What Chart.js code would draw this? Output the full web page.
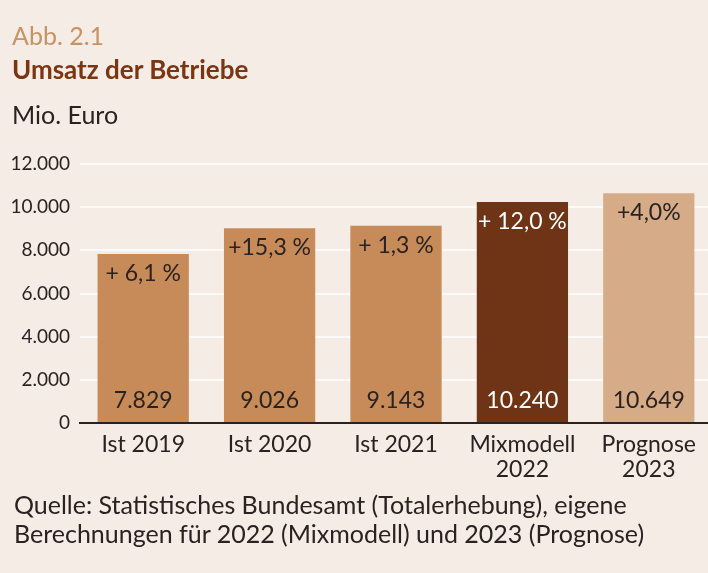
<!DOCTYPE html>
<html><head><meta charset="utf-8">
<script src="https://cdn.jsdelivr.net/npm/chart.js@4.4.0/dist/chart.umd.min.js"></script>
<style>
html,body{margin:0;padding:0;width:708px;height:573px;overflow:hidden;background:#f5ece5;font-family:Lato,sans-serif;}
#wrap{position:absolute;left:0;top:0;width:712px;height:573px;}
.t{position:absolute;left:12px;white-space:nowrap;}
#abb{top:23px;font-size:25px;line-height:25px;color:#c99262;}
#tit{top:56px;font-size:26px;line-height:26px;color:#7a3513;font-weight:bold;}
#unit{top:102px;font-size:25px;line-height:25px;color:#2a2220;}
#src{top:490px;left:14px;font-size:25px;line-height:29px;color:#2a2220;}
</style></head>
<body>
<div id="wrap"><canvas id="c"></canvas></div>
<div class="t" id="abb">Abb. 2.1</div>
<div class="t" id="tit">Umsatz der Betriebe</div>
<div class="t" id="unit">Mio. Euro</div>
<div class="t" id="src">Quelle: Statistisches Bundesamt (Totalerhebung), eigene<br>Berechnungen für 2022 (Mixmodell) und 2023 (Prognose)</div>
<script>
const categories = [["Ist 2019"], ["Ist 2020"], ["Ist 2021"], ["Mixmodell", "2022"], ["Prognose", "2023"]];
const values = [7829, 9026, 9143, 10240, 10649];
const valueLabels = ["7.829", "9.026", "9.143", "10.240", "10.649"];
const changeLabels = ["+ 6,1 %", "+15,3 %", "+ 1,3 %", "+ 12,0 %", "+4,0%"];
const yTicks = [0, 2000, 4000, 6000, 8000, 10000, 12000];
const barColors = ["#c68b59", "#c68b59", "#c68b59", "#6e3415", "#d5ab88"];
const labelColors = ["#2a2220", "#2a2220", "#2a2220", "#ffffff", "#2a2220"];

const labelPlugin = {
  id: 'barLabels',
  afterDatasetsDraw(chart) {
    const ctx = chart.ctx;
    const meta = chart.getDatasetMeta(0);
    const y0 = chart.scales.y.getPixelForValue(0);
    ctx.save();
    ctx.font = '23px Lato';
    ctx.textAlign = 'center';
    ctx.textBaseline = 'alphabetic';
    meta.data.forEach((bar, i) => {
      ctx.fillStyle = labelColors[i];
      ctx.fillText(changeLabels[i], bar.x, bar.y + 27);
      ctx.fillText(valueLabels[i], bar.x, y0 - 15);
    });
    ctx.restore();
  }
};

function fmt(v){ return v === 0 ? '0' : v.toLocaleString('de-DE'); }

function build(){
  new Chart(document.getElementById('c'), {
    type: 'bar',
    data: {
      labels: categories,
      datasets: [{
        data: values,
        backgroundColor: barColors,
        borderWidth: 0,
        barPercentage: 0.722,
        categoryPercentage: 1.0
      }]
    },
    options: {
      responsive: true,
      maintainAspectRatio: false,
      animation: false,
      devicePixelRatio: 1,
      layout: { padding: { top: 164, left: 0, right: 0, bottom: 0 } },
      plugins: { legend: { display: false }, tooltip: { enabled: false } },
      scales: {
        x: {
          grid: { display: false, drawTicks: false },
          border: { display: true, color: '#2a2220', width: 2 },
          ticks: { color: '#2a2220', font: { family: 'Lato', size: 23, lineHeight: 1.05 }, padding: 10, maxRotation: 0, autoSkip: false },
          afterFit(s) { s.height = 150; s.paddingLeft = 0; s.paddingRight = 0; }
        },
        y: {
          min: 0, max: 12000,
          afterBuildTicks(s) { s.ticks = yTicks.map(v => ({ value: v })); },
          grid: { color: '#fdfaf7', lineWidth: 2, drawTicks: false },
          border: { display: false },
          ticks: { color: '#2a2220', font: { family: 'Lato', size: 19 }, padding: 10, callback: (v) => fmt(v) },
          afterFit(s) { s.width = 80; s.paddingTop = 0; s.paddingBottom = 0; }
        }
      }
    },
    plugins: [labelPlugin]
  });
}
Promise.all([
  document.fonts.load('23px Lato'),
  document.fonts.load('bold 26px Lato')
]).then(build, build);
</script>
</body></html>
